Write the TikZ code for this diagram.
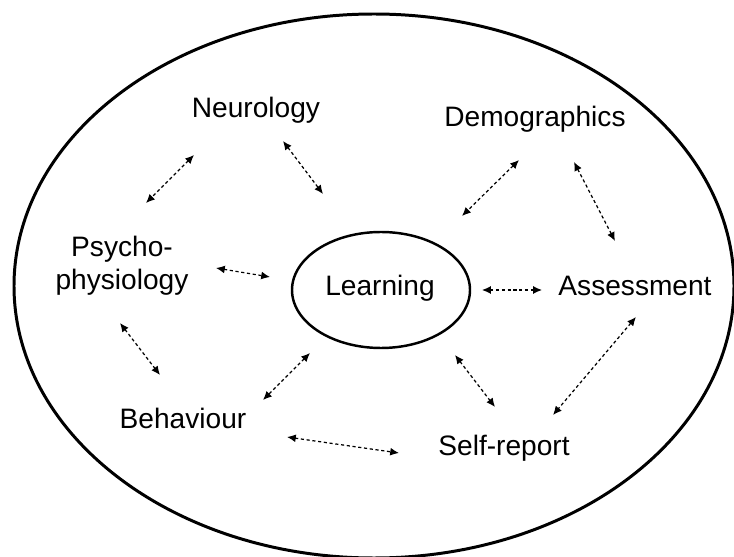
\documentclass[tikz,border=0pt]{standalone}
\usepackage{fontspec}
\setmainfont{Liberation Sans}
\usetikzlibrary{arrows.meta, calc}
\newcommand{\duoarrow}[2]{%
  \draw[{Latex[length=5pt,width=4.5pt]}-{Latex[length=5pt,width=4.5pt]}, line width=0.7pt, dash pattern=on 1.8pt off 1.5pt, black] (#1) -- (#2);
}

\begin{document}
\begin{tikzpicture}[x=0.02cm, y=-0.02cm, font=\fontsize{16pt}{18.8pt}\selectfont]
            \useasboundingbox (0,0) rectangle (734,557);
            \fill[white] (0,0) rectangle (734,557);
            \clip (0,0) rectangle (734,557);

            \draw[line width=1.7pt] (374,286) ellipse [x radius=360, y radius=272];
            \draw[line width=1.4pt] (381,290) ellipse [x radius=89, y radius=58];

            \node[anchor=base, inner sep=0pt] (Learn) at (380,296) {Learning};
            \node[anchor=base, inner sep=0pt] (Neuro) at (256,118) {Neurology};
            \node[anchor=base, inner sep=0pt] (Demo) at (535,127) {Demographics};
            \node[align=center, inner sep=0pt] (Psych) at (122,266) {Psycho-\\physiology};
            \node[anchor=base, inner sep=0pt] (Assess) at (635,296) {Assessment};
            \node[anchor=base, inner sep=0pt] (Behav) at (183,428) {Behaviour};
            \node[anchor=base, inner sep=0pt] (Self) at (504,455) {Self-report};

            \coordinate (NP1) at (194,155);
            \coordinate (NP2) at (146,203);
            \coordinate (NL1) at (283,141);
            \coordinate (NL2) at (323,194);
            \coordinate (DL1) at (519,160);
            \coordinate (DL2) at (462,216);
            \coordinate (DA1) at (574,162);
            \coordinate (DA2) at (615,241);
            \coordinate (PL1) at (216,268);
            \coordinate (PL2) at (270,277);
            \coordinate (LA1) at (482,290);
            \coordinate (LA2) at (542,290);
            \coordinate (PB1) at (120,323);
            \coordinate (PB2) at (160,375);
            \coordinate (BL1) at (310,353);
            \coordinate (BL2) at (263,400);
            \coordinate (LS1) at (455,355);
            \coordinate (LS2) at (495,407);
            \coordinate (AS1) at (636,317);
            \coordinate (AS2) at (553,415);
            \coordinate (BS1) at (287,437);
            \coordinate (BS2) at (399,453);

            \duoarrow{NP1}{NP2}
            \duoarrow{NL1}{NL2}
            \duoarrow{DL1}{DL2}
            \duoarrow{DA1}{DA2}
            \duoarrow{PL1}{PL2}
            \duoarrow{LA1}{LA2}
            \duoarrow{PB1}{PB2}
            \duoarrow{BL1}{BL2}
            \duoarrow{LS1}{LS2}
            \duoarrow{AS1}{AS2}
            \duoarrow{BS1}{BS2}
        \end{tikzpicture}
\end{document}
